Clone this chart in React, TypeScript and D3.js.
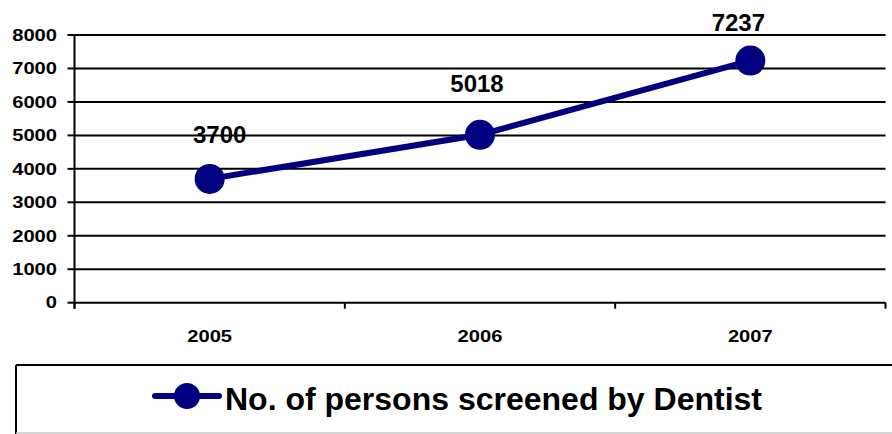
import React from "react";
import * as d3 from "d3";

// Screening counts per year
const years: string[] = ["2005", "2006", "2007"];
const screened: number[] = [3700, 5018, 7237];
const yTicks: number[] = [0, 1000, 2000, 3000, 4000, 5000, 6000, 7000, 8000];
const seriesName = "No. of persons screened by Dentist";

const W = 892;
const H = 434;
const plot = { left: 74.5, right: 885.5, top: 35, bottom: 302.7 };
const navy = "#000080";
const font = "Arial, 'Liberation Sans', sans-serif";
// tick labels are set slightly wide
const tickCharWidth = 11.2;

// small nudges for the value labels above each point
const labelNudge = [
  { dx: 10, dy: -36 },
  { dx: -3, dy: -43 },
  { dx: -12, dy: -30 },
];

export default function App() {
  const x = d3.scaleBand<string>().domain(years).range([plot.left, plot.right]);
  const y = d3.scaleLinear().domain([0, 8000]).range([plot.bottom, plot.top]);
  const cx = (d: string) => (x(d) as number) + x.bandwidth() / 2;

  const line = d3
    .line<number>()
    .x((_, i) => cx(years[i]))
    .y((v) => y(v));

  const bandEdges = years.map((d) => x(d) as number).concat([plot.right]);

  return (
    <svg
      width={W}
      height={H}
      style={{ position: "absolute", left: 0, top: 0, background: "#fff" }}
      fontFamily={font}
    >
      <rect x={0} y={0} width={W} height={H} fill="#fff" />
      {/* horizontal gridlines */}
      {yTicks.map((t) => (
        <line
          key={"g" + t}
          x1={plot.left}
          x2={plot.right}
          y1={y(t)}
          y2={y(t)}
          stroke="#000"
          strokeWidth={2}
        />
      ))}
      {/* y axis */}
      <line x1={plot.left} x2={plot.left} y1={plot.top} y2={plot.bottom + 6} stroke="#000" strokeWidth={2} />
      {yTicks.map((t) => (
        <g key={"yt" + t}>
          <line x1={plot.left - 7} x2={plot.left} y1={y(t)} y2={y(t)} stroke="#000" strokeWidth={2} />
          <text
            x={57}
            y={y(t)}
            dy="0.36em"
            textAnchor="end"
            fontSize={16}
            fontWeight="bold"
            fill="#000"
            textLength={String(t).length * tickCharWidth}
            lengthAdjust="spacingAndGlyphs"
          >
            {t}
          </text>
        </g>
      ))}
      {/* x axis ticks between categories */}
      {bandEdges.map((e, i) => (
        <line key={"xt" + i} x1={e} x2={e} y1={plot.bottom} y2={plot.bottom + 6} stroke="#000" strokeWidth={2} />
      ))}
      {years.map((d) => (
        <text
          key={"xl" + d}
          x={cx(d)}
          y={342}
          textAnchor="middle"
          fontSize={17}
          fontWeight="bold"
          fill="#000"
          textLength={d.length * tickCharWidth}
          lengthAdjust="spacingAndGlyphs"
        >
          {d}
        </text>
      ))}
      {/* series */}
      <path d={line(screened) || ""} fill="none" stroke={navy} strokeWidth={6} />
      {screened.map((v, i) => (
        <circle key={"p" + i} cx={cx(years[i])} cy={y(v)} r={15} fill={navy} />
      ))}
      {screened.map((v, i) => (
        <text
          key={"v" + i}
          x={cx(years[i]) + labelNudge[i].dx}
          y={y(v) + labelNudge[i].dy}
          textAnchor="middle"
          fontSize={24}
          fontWeight="bold"
          fill="#000"
        >
          {v}
        </text>
      ))}
      {/* legend */}
      <line x1={16} x2={16} y1={365} y2={434} stroke="#000" strokeWidth={2} />
      <line x1={16} x2={W} y1={365} y2={365} stroke="#000" strokeWidth={2} />
      <line x1={16} x2={W} y1={433} y2={433} stroke="#c8c8c8" strokeWidth={1.5} />
      <line x1={155} x2={219} y1={396} y2={396} stroke={navy} strokeWidth={6} strokeLinecap="round" />
      <circle cx={187} cy={396} r={13} fill={navy} />
      <text
        x={225}
        y={410}
        fontSize={31}
        fontWeight="bold"
        fill="#000"
        textLength={537}
        lengthAdjust="spacingAndGlyphs"
      >
        {seriesName}
      </text>
    </svg>
  );
}
